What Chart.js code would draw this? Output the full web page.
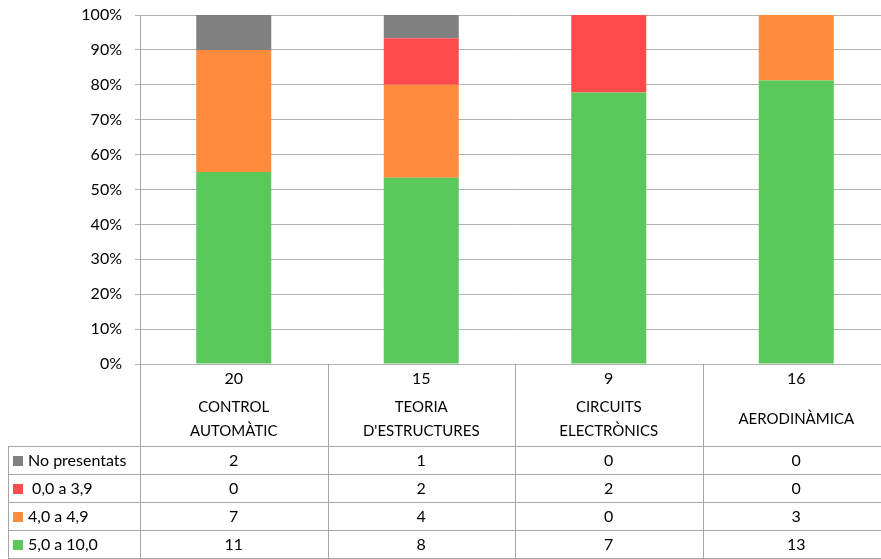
<!DOCTYPE html>
<html>
<head>
<meta charset="utf-8">
<script src="https://cdn.jsdelivr.net/npm/chart.js@4/dist/chart.umd.min.js"></script>
<style>
  body { margin: 0; background: #fff; overflow: hidden; }
  canvas { display: block; }
</style>
</head>
<body>
<canvas id="resultsChart" width="890" height="559"></canvas>
<script>
// Subjects (header lines) and number of students in each
const subjects = [["CONTROL", "AUTOMÀTIC"], ["TEORIA", "D'ESTRUCTURES"], ["CIRCUITS", "ELECTRÒNICS"], ["AERODINÀMICA"]];
const totals = [20, 15, 9, 16];

// Counts per grade band
const noPresentats = [2, 1, 0, 0];
const suspes = [0, 2, 2, 0];
const nota4 = [7, 4, 0, 3];
const aprovat = [11, 8, 7, 13];

const yTicks = [0, 10, 20, 30, 40, 50, 60, 70, 80, 90, 100];

// Table rows, top to bottom
const rows = [
  { label: "No presentats", data: noPresentats, color: "#808080" },
  { label: " 0,0 a 3,9", data: suspes, color: "#ff4b4b" },
  { label: "4,0 a 4,9", data: nota4, color: "#ff8c3c" },
  { label: "5,0 a 10,0", data: aprovat, color: "#5ac85a" },
];

const FONT = "Lato, 'Open Sans', sans-serif";
const LINE = "#a6a6a6";

const toPercent = (arr) => arr.map((v, i) => (v / totals[i]) * 100);

// Stack order bottom to top is the reverse of the table
const datasets = rows.slice().reverse().map((r) => ({
  label: r.label,
  data: toPercent(r.data),
  backgroundColor: r.color,
  barPercentage: 0.4,
  categoryPercentage: 1,
}));

const dataTable = {
  id: "dataTable",
  afterDraw(chart) {
    const { ctx, chartArea } = chart;
    const x = chart.scales.x;
    const colW = (chartArea.right - chartArea.left) / subjects.length;
    const top = chartArea.bottom;
    const headBottom = 446;
    const rowH = 28;
    const tableLeft = 8;
    const bottom = headBottom + rowH * rows.length;

    ctx.save();
    ctx.strokeStyle = LINE;
    ctx.lineWidth = 1;

    // vertical lines
    for (let i = 0; i < subjects.length; i++) {
      const bx = Math.round(x.getPixelForValue(i) - colW / 2) + 0.5;
      ctx.beginPath();
      ctx.moveTo(bx, top);
      ctx.lineTo(bx, bottom);
      ctx.stroke();
    }
    ctx.beginPath();
    ctx.moveTo(tableLeft + 0.5, headBottom);
    ctx.lineTo(tableLeft + 0.5, bottom);
    ctx.stroke();

    // horizontal lines
    for (let r = 0; r <= rows.length; r++) {
      const y = headBottom + r * rowH + 0.5;
      ctx.beginPath();
      ctx.moveTo(tableLeft, y);
      ctx.lineTo(chart.width, y);
      ctx.stroke();
    }

    // header: totals and subject names
    ctx.fillStyle = "#000";
    ctx.textAlign = "center";
    ctx.textBaseline = "middle";
    subjects.forEach((lines, i) => {
      const cx = x.getPixelForValue(i);
      ctx.font = "16px " + FONT;
      ctx.fillText(String(totals[i]), cx, 379);
      ctx.font = "15px " + FONT;
      const mid = 419;
      lines.forEach((t, k) => {
        const y = mid + (k - (lines.length - 1) / 2) * 24;
        ctx.fillText(t, cx, y);
      });
    });

    // rows
    ctx.font = "16px " + FONT;
    rows.forEach((r, ri) => {
      const cy = headBottom + ri * rowH + rowH / 2 + 1;
      ctx.fillStyle = r.color;
      ctx.fillRect(13, cy - 5, 10, 10);
      ctx.fillStyle = "#000";
      ctx.textAlign = "left";
      ctx.fillText(r.label, 28, cy);
      ctx.textAlign = "center";
      r.data.forEach((v, i) => {
        ctx.fillText(String(v), x.getPixelForValue(i), cy);
      });
    });
    ctx.restore();
  },
};

new Chart(document.getElementById("resultsChart"), {
  type: "bar",
  data: { labels: subjects.map((s) => s.join(" ")), datasets },
  options: {
    responsive: false,
    animation: false,
    layout: { padding: { top: 15, right: 0, bottom: 195, left: 0 } },
    plugins: { legend: { display: false }, tooltip: { enabled: false } },
    scales: {
      x: {
        stacked: true,
        display: false,
        offset: true,
      },
      y: {
        stacked: true,
        min: 0,
        max: 100,
        afterFit: (scale) => {
          scale.width = 140;
          scale.paddingTop = 0;
          scale.paddingBottom = 0;
        },
        afterBuildTicks: (scale) => { scale.ticks = yTicks.map((v) => ({ value: v })); },
        ticks: {
          callback: (v) => v + "%",
          color: "#000",
          padding: 13,
          font: { family: FONT, size: 16 },
        },
        grid: { color: "#b3b3b3", tickLength: 5 },
        border: { color: "#a6a6a6" },
      },
    },
  },
  plugins: [dataTable],
});
</script>
</body>
</html>
